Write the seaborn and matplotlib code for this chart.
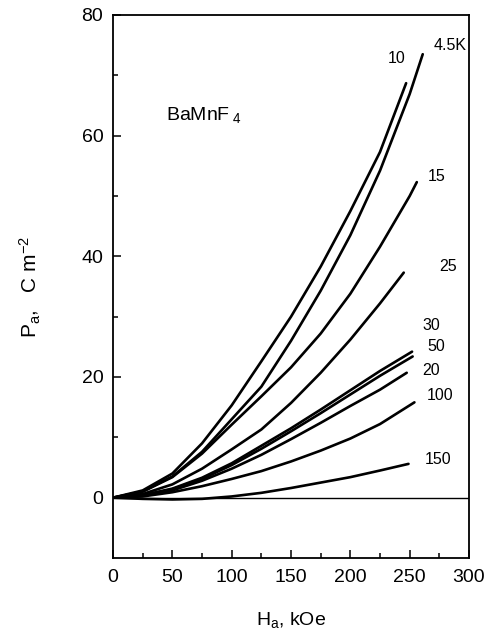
import numpy as np
import pandas as pd
import matplotlib
matplotlib.use("Agg")
import matplotlib.pyplot as plt
import seaborn as sns

# ---------------------------------------------------
# data (H in kOe, P in C m^-2)
# ---------------------------------------------------
H_10 = [0, 25, 50, 75, 100, 125, 150, 175, 200, 225, 247]
P_10 = [0, 1.2, 4.0, 9.0, 15.3, 22.6, 30.0, 38.3, 47.5, 57.3, 68.7]

H_45 = [0, 25, 50, 75, 100, 125, 150, 175, 200, 225, 250, 261]
P_45 = [0, 1.0, 3.5, 7.6, 13.0, 18.4, 26.0, 34.3, 43.5, 54.2, 66.9, 73.5]

H_15 = [0, 25, 50, 75, 100, 125, 150, 175, 200, 225, 250, 256]
P_15 = [0, 1.0, 3.4, 7.3, 12.1, 16.8, 21.6, 27.2, 33.8, 41.6, 50.0, 52.3]

H_25 = [0, 25, 50, 75, 100, 125, 150, 175, 200, 225, 245]
P_25 = [0, 0.6, 2.2, 4.8, 8.0, 11.3, 15.7, 20.7, 26.2, 32.2, 37.3]

H_30 = [0, 25, 50, 75, 100, 125, 150, 175, 200, 225, 252]
P_30 = [0, 0.4, 1.5, 3.3, 5.7, 8.6, 11.5, 14.6, 17.8, 21.0, 24.2]

H_50 = [0, 25, 50, 75, 100, 125, 150, 175, 200, 225, 252.5]
P_50 = [0, 0.4, 1.4, 3.1, 5.4, 8.1, 11.0, 14.0, 17.1, 20.2, 23.4]

H_20 = [0, 25, 50, 75, 100, 125, 150, 175, 200, 225, 247.5]
P_20 = [0, 0.3, 1.2, 2.8, 4.8, 7.1, 9.7, 12.4, 15.2, 17.9, 20.7]

H_100 = [0, 25, 50, 75, 100, 125, 150, 175, 200, 225, 254]
P_100 = [0, 0.2, 0.9, 1.9, 3.1, 4.4, 6.0, 7.8, 9.8, 12.2, 15.8]

H_150 = [0, 25, 50, 75, 100, 125, 150, 175, 200, 225, 249]
P_150 = [0, -0.2, -0.3, -0.2, 0.2, 0.8, 1.6, 2.5, 3.4, 4.5, 5.6]

curves = {
    "4.5K": (H_45, P_45), "10": (H_10, P_10), "15": (H_15, P_15),
    "25": (H_25, P_25), "30": (H_30, P_30), "50": (H_50, P_50),
    "20": (H_20, P_20), "100": (H_100, P_100), "150": (H_150, P_150),
}

# label text positions (data coords)
label_pos = {
    "4.5K": (270, 75.0), "10": (231.5, 72.8), "15": (265.5, 53.3),
    "25": (275, 38.3), "30": (261, 28.6), "50": (265, 25.0),
    "20": (261, 21.0), "100": (264, 17.0), "150": (262.5, 6.4),
}

df = pd.concat(
    [pd.DataFrame({"H": h, "P": p, "T": t}) for t, (h, p) in curves.items()],
    ignore_index=True,
)

sns.set_theme(style="ticks")
plt.rcParams["font.family"] = ["Liberation Sans", "DejaVu Sans"]
plt.rcParams["mathtext.fontset"] = "custom"
plt.rcParams["mathtext.rm"] = "Liberation Sans"
plt.rcParams["mathtext.it"] = "Liberation Sans"
plt.rcParams["mathtext.default"] = "regular"
plt.rcParams["text.color"] = "black"
plt.rcParams["axes.labelcolor"] = "black"

fig = plt.figure(figsize=(4.88, 6.38), dpi=100)
ax = fig.add_axes([0.2316, 0.1254, 0.7295, 0.8511])

ax.axhline(0, color="black", lw=1.0, zorder=1)

sns.lineplot(
    data=df, x="H", y="P", hue="T", units="T", estimator=None, sort=False,
    palette=["black"] * len(curves), lw=1.9, legend=False, ax=ax,
)

for t, (x, y) in label_pos.items():
    ax.text(x, y, t, fontsize=11.5, ha="left", va="center", color="black")

ax.text(45, 63.5, r"BaMnF$_{\ 4}$", fontsize=14, ha="left", va="center")

ax.set_xlim(0, 300)
ax.set_ylim(-10, 80)
ax.set_xticks([0, 50, 100, 150, 200, 250, 300])
ax.set_xticks(np.arange(25, 300, 50), minor=True)
ax.set_yticks([0, 20, 40, 60, 80])
ax.set_yticks([10, 30, 50, 70], minor=True)
ax.tick_params(which="both", direction="in", top=False, right=False,
               width=1.1, labelsize=14, colors="black")
ax.tick_params(which="major", length=6)
ax.tick_params(which="minor", length=3.5)
ax.tick_params(axis="x", pad=8)
ax.tick_params(axis="y", pad=7)
for s in ax.spines.values():
    s.set_linewidth(1.3)
    s.set_color("black")

ax.set_xlabel(r"H$_{a}$, kOe", fontsize=14, labelpad=17)
ax.set_ylabel(r"P$_{a}$,   C m$^{-2}$", fontsize=15, labelpad=28)

fig.savefig("out.png", dpi=100)
